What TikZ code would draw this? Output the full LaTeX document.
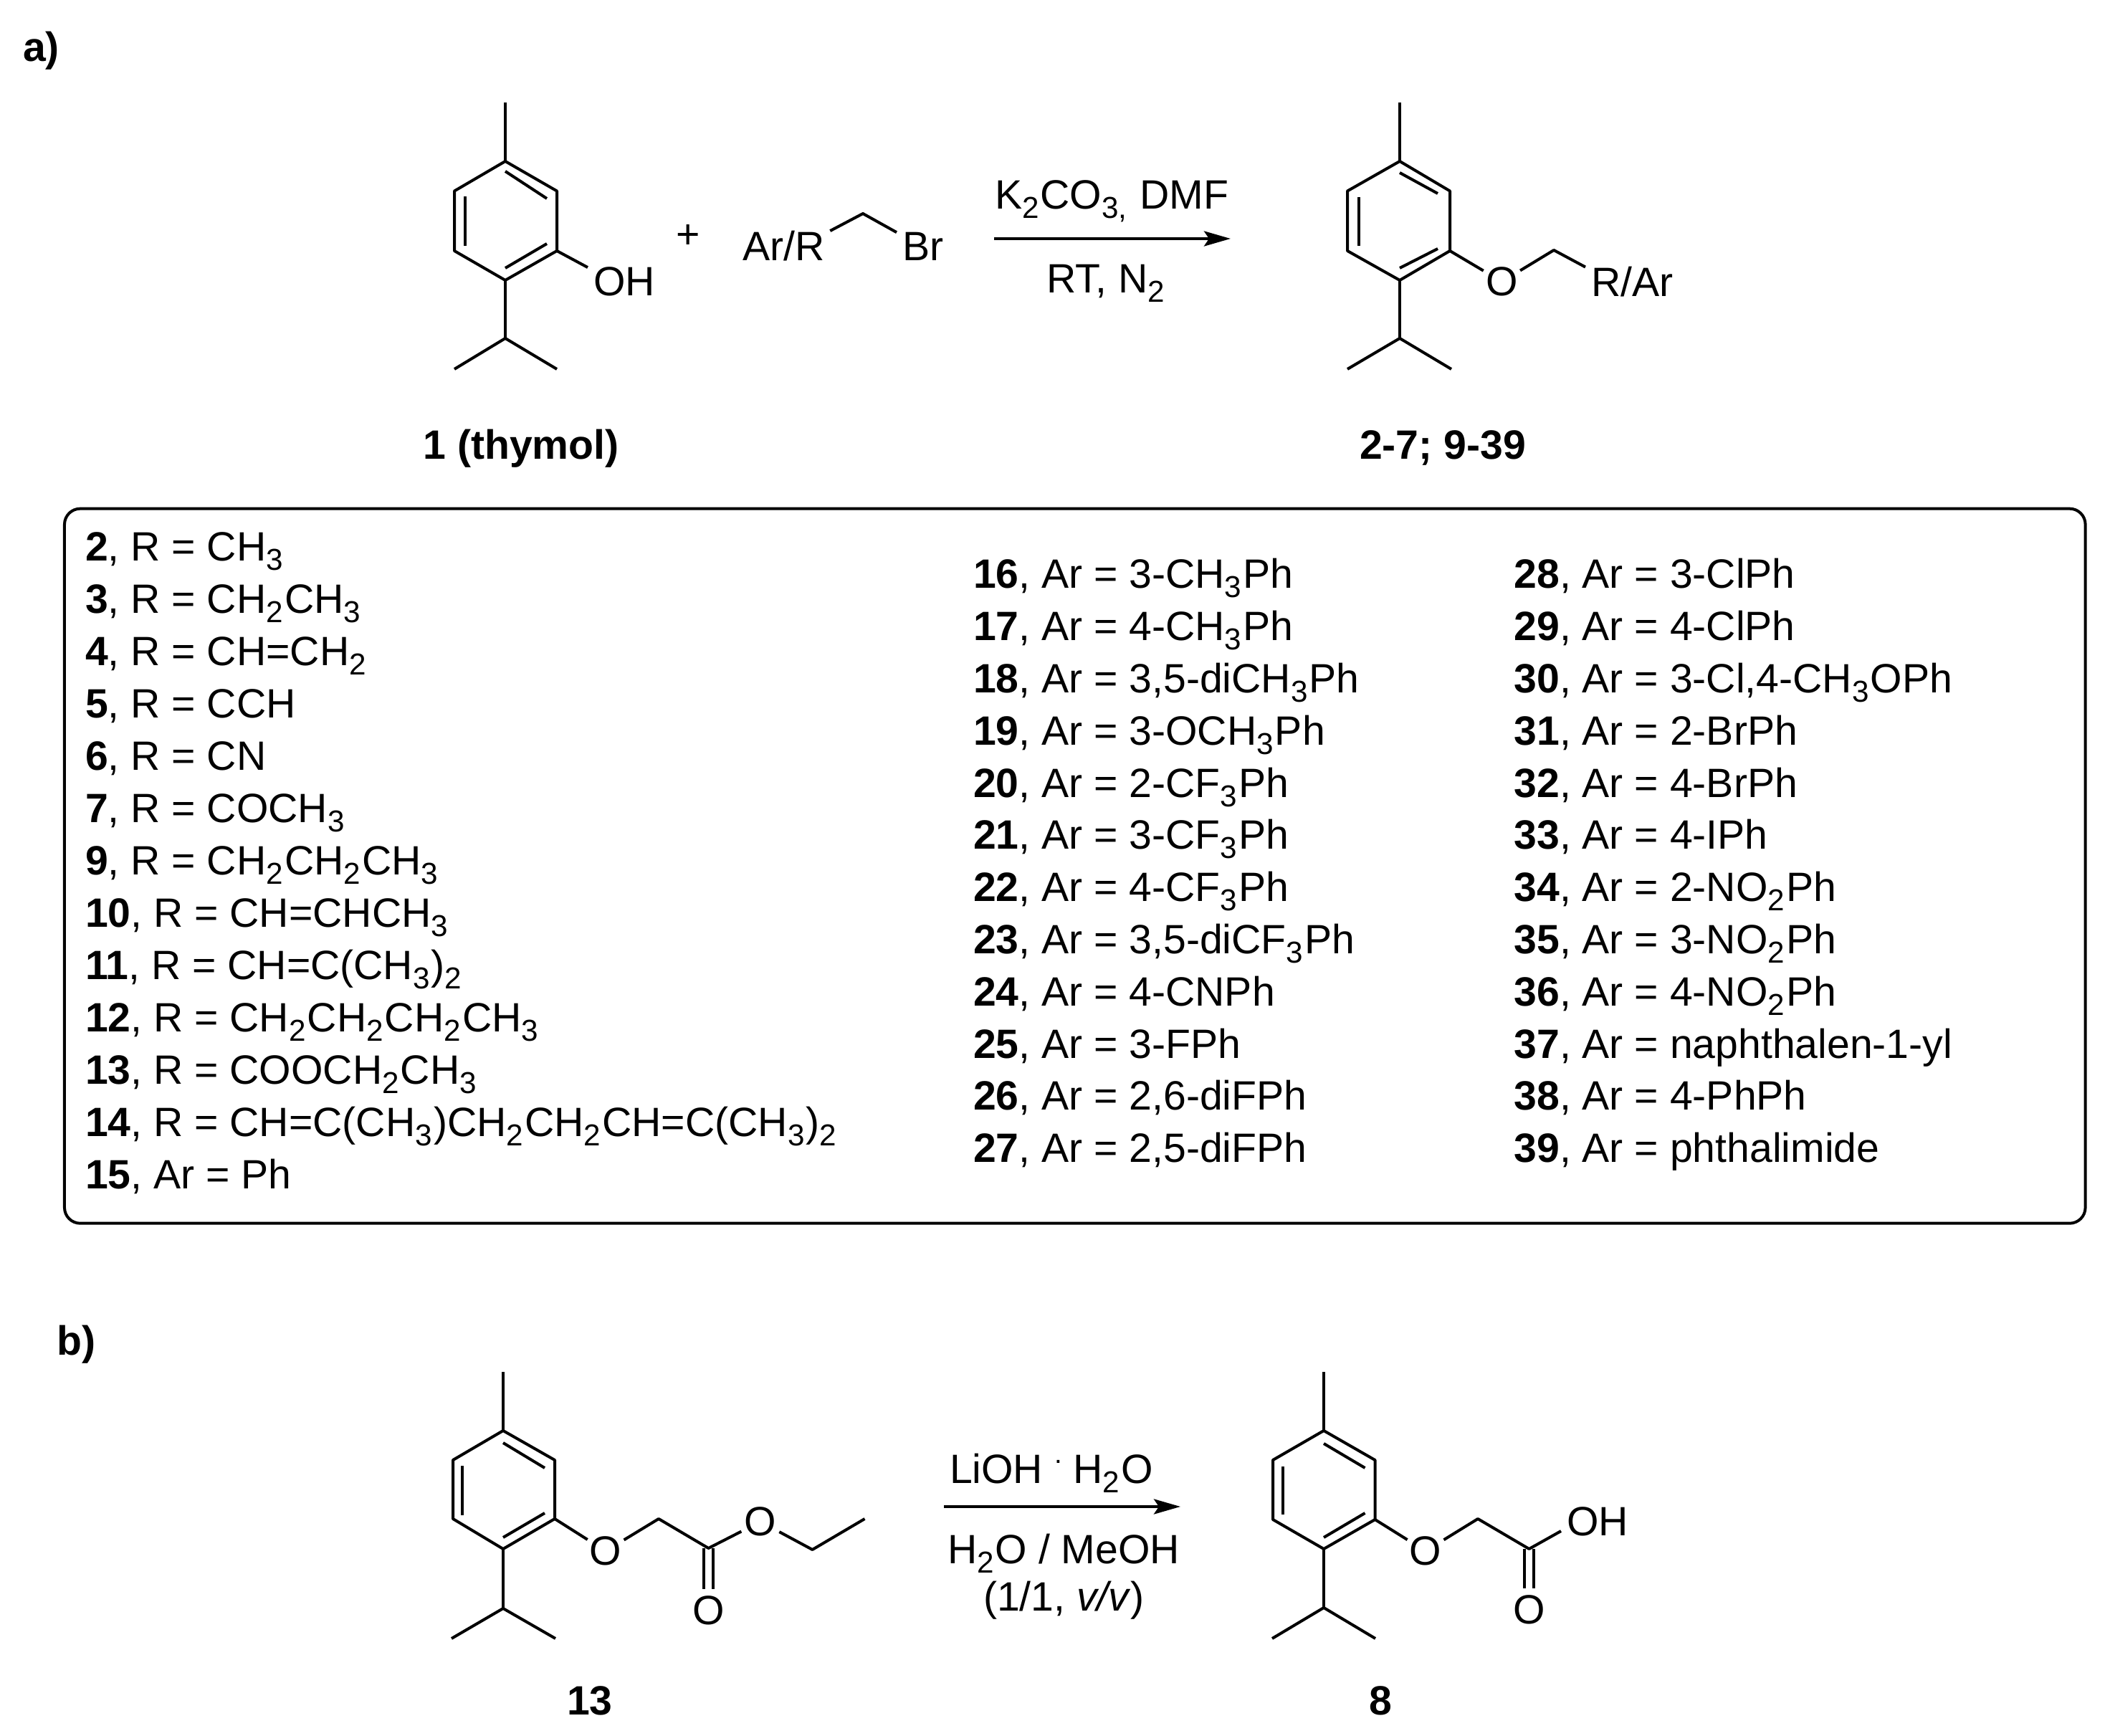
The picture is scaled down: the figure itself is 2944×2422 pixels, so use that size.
\documentclass[tikz,border=0pt]{standalone}
\usepackage{fontspec}
\setmainfont{Liberation Sans}
\usetikzlibrary{arrows.meta}
\newcommand{\sbs}[1]{\raisebox{-0.22em}{\fontsize{12}{13}\selectfont #1\kern.05em}}
\tikzset{
  txt/.style={inner sep=0pt, outer sep=0pt, anchor=base west},
  ctxt/.style={inner sep=0pt, outer sep=0pt, anchor=base},
  lab/.style={inner xsep=.08cm, inner ysep=0pt, outer sep=0pt, anchor=base west},
  atomO/.style={circle, inner sep=0pt, outer sep=0pt, minimum size=.59cm},
  bond/.style={line width=.04cm, line join=round},
  dbond/.style={line width=.04cm, double, double distance=.09cm},
  rxn/.style={line width=.042cm, -{Stealth[length=.37cm,width=.21cm,inset=.07cm]}},
  listbox/.style={draw, line width=.04cm, rounded corners=.22cm, minimum width=28.18cm, minimum height=9.965cm, inner sep=0pt}
}
\begin{document}
\begin{tikzpicture}[x=.01cm, y=-.01cm, every node/.style={font=\fontsize{16.25}{19}\selectfont}]
\useasboundingbox (0,0) rectangle (2944,2422);
\node[txt] (parta) at (32,86){\textbf{a)}};
\node[txt] (partb) at (80,1890){\textbf{b)}};
% thymol
\coordinate (a0) at (705,143);
\coordinate (a1) at (705,225);
\coordinate (a2) at (777,266.5);
\coordinate (a3) at (777,350);
\coordinate (a4) at (705,391);
\coordinate (a5) at (634,350);
\coordinate (a6) at (634,266.5);
\coordinate (a7) at (705,472);
\coordinate (a8) at (634,515);
\coordinate (a9) at (777,515);
\coordinate (ai1) at (705,239);
\coordinate (ai2) at (763,277);
\coordinate (ai3) at (763,340);
\coordinate (ai4) at (705,374);
\coordinate (ai5) at (648.6,343);
\coordinate (ai6) at (648.6,274.5);
\node[lab] (aoh) at (820,413){OH};
\draw[bond](a1) -- (a2) -- (a3) -- (a4) -- (a5) -- (a6) -- cycle;
\draw[bond](a0) -- (a1);
\draw[bond](a4) -- (a7);
\draw[bond](a8) -- (a7) -- (a9);
\draw[bond](ai1) -- (ai2);
\draw[bond](ai3) -- (ai4);
\draw[bond](ai5) -- (ai6);
\draw[bond](a3) -- (aoh.north west);
\node[ctxt] (thy) at (727,641){\textbf{1 (thymol)}};
\node[ctxt] (plus) at (960,347){+};
% benzyl bromide
\node[lab] (arr) at (1028,363.5){Ar/R};
\node[lab] (br) at (1251,363.5){Br};
\coordinate (b1) at (1204,298);
\draw[bond](arr.north east) -- (b1) -- (br.north west);
% first arrow
\coordinate (r1s) at (1387,333);
\coordinate (r1e) at (1717,333);
\draw[rxn](r1s) -- (r1e);
\node[txt] (r1a) at (1388,291.5){K\sbs{2}CO\sbs{3,} DMF};
\node[txt] (r1b) at (1460,408.5){RT, N\sbs{2}};
% product
\coordinate (c0) at (1953,143);
\coordinate (c1) at (1953,225);
\coordinate (c2) at (2023,266.5);
\coordinate (c3) at (2023,350);
\coordinate (c4) at (1953,391);
\coordinate (c5) at (1880,350);
\coordinate (c6) at (1880,266.5);
\coordinate (c7) at (1953,472);
\coordinate (c8) at (1880,515);
\coordinate (c9) at (2025,515);
\coordinate (ci1) at (1953,241);
\coordinate (ci2) at (2006,270);
\coordinate (ci3) at (2006,347);
\coordinate (ci4) at (1953,374);
\coordinate (ci5) at (1895.5,343);
\coordinate (ci6) at (1895.5,275);
\coordinate (c10) at (2168,349);
\node[atomO] (co) at (2095.5,393){O};
\node[lab] (crar) at (2212,414){R/Ar};
\draw[bond](c1) -- (c2) -- (c3) -- (c4) -- (c5) -- (c6) -- cycle;
\draw[bond](c0) -- (c1);
\draw[bond](c4) -- (c7);
\draw[bond](c8) -- (c7) -- (c9);
\draw[bond](ci1) -- (ci2);
\draw[bond](ci3) -- (ci4);
\draw[bond](ci5) -- (ci6);
\draw[bond](c3) -- (co);
\draw[bond](co) -- (c10) -- (crar.north west);
\node[ctxt] (prod) at (2013,641){\textbf{2-7; 9-39}};
% list box
\node[listbox] (box) at (1499.8,1208.2){};
\node[txt] (l2) at (119,783){\textbf{2}, R = CH\sbs{3}};
\node[txt] (l3) at (119,856){\textbf{3}, R = CH\sbs{2}CH\sbs{3}};
\node[txt] (l4) at (119,929){\textbf{4}, R = CH=CH\sbs{2}};
\node[txt] (l5) at (119,1002){\textbf{5}, R = CCH};
\node[txt] (l6) at (119,1075){\textbf{6}, R = CN};
\node[txt] (l7) at (119,1148){\textbf{7}, R = COCH\sbs{3}};
\node[txt] (l9) at (119,1220.5){\textbf{9}, R = CH\sbs{2}CH\sbs{2}CH\sbs{3}};
\node[txt] (l10) at (119,1293.5){\textbf{10}, R = CH=CHCH\sbs{3}};
\node[txt] (l11) at (119,1366.5){\textbf{11}, R = CH=C(CH\sbs{3})\sbs{2}};
\node[txt] (l12) at (119,1439.5){\textbf{12}, R = CH\sbs{2}CH\sbs{2}CH\sbs{2}CH\sbs{3}};
\node[txt] (l13) at (119,1512.5){\textbf{13}, R = COOCH\sbs{2}CH\sbs{3}};
\node[txt] (l14) at (119,1585.5){\textbf{14}, R = CH=C(CH\sbs{3})CH\sbs{2}CH\sbs{2}CH=C(CH\sbs{3})\sbs{2}};
\node[txt] (l15) at (119,1658.5){\textbf{15}, Ar = Ph};
\node[txt] (l16) at (1358,821){\textbf{16}, Ar = 3-CH\sbs{3}Ph};
\node[txt] (l17) at (1358,894){\textbf{17}, Ar = 4-CH\sbs{3}Ph};
\node[txt] (l18) at (1358,967){\textbf{18}, Ar = 3,5-diCH\sbs{3}Ph};
\node[txt] (l19) at (1358,1039.5){\textbf{19}, Ar = 3-OCH\sbs{3}Ph};
\node[txt] (l20) at (1358,1112.5){\textbf{20}, Ar = 2-CF\sbs{3}Ph};
\node[txt] (l21) at (1358,1185){\textbf{21}, Ar = 3-CF\sbs{3}Ph};
\node[txt] (l22) at (1358,1258){\textbf{22}, Ar = 4-CF\sbs{3}Ph};
\node[txt] (l23) at (1358,1331){\textbf{23}, Ar = 3,5-diCF\sbs{3}Ph};
\node[txt] (l24) at (1358,1403.5){\textbf{24}, Ar = 4-CNPh};
\node[txt] (l25) at (1358,1476.5){\textbf{25}, Ar = 3-FPh};
\node[txt] (l26) at (1358,1549){\textbf{26}, Ar = 2,6-diFPh};
\node[txt] (l27) at (1358,1622){\textbf{27}, Ar = 2,5-diFPh};
\node[txt] (l28) at (2112.5,821){\textbf{28}, Ar = 3-ClPh};
\node[txt] (l29) at (2112.5,894){\textbf{29}, Ar = 4-ClPh};
\node[txt] (l30) at (2112.5,967){\textbf{30}, Ar = 3-Cl,4-CH\sbs{3}OPh};
\node[txt] (l31) at (2112.5,1039.5){\textbf{31}, Ar = 2-BrPh};
\node[txt] (l32) at (2112.5,1112.5){\textbf{32}, Ar = 4-BrPh};
\node[txt] (l33) at (2112.5,1185){\textbf{33}, Ar = 4-IPh};
\node[txt] (l34) at (2112.5,1258){\textbf{34}, Ar = 2-NO\sbs{2}Ph};
\node[txt] (l35) at (2112.5,1331){\textbf{35}, Ar = 3-NO\sbs{2}Ph};
\node[txt] (l36) at (2112.5,1403.5){\textbf{36}, Ar = 4-NO\sbs{2}Ph};
\node[txt] (l37) at (2112.5,1476.5){\textbf{37}, Ar = naphthalen-1-yl};
\node[txt] (l38) at (2112.5,1549){\textbf{38}, Ar = 4-PhPh};
\node[txt] (l39) at (2112.5,1622){\textbf{39}, Ar = phthalimide};
% ester 13
\coordinate (d0) at (702,1914);
\coordinate (d1) at (702,1996);
\coordinate (d2) at (774,2037);
\coordinate (d3) at (774,2119);
\coordinate (d4) at (702,2161);
\coordinate (d5) at (632,2119);
\coordinate (d6) at (632,2037);
\coordinate (d7) at (702,2244);
\coordinate (d8) at (630,2286);
\coordinate (d9) at (775,2286);
\coordinate (di1) at (702,2013);
\coordinate (di2) at (760,2048);
\coordinate (di3) at (760,2111);
\coordinate (di4) at (702,2145);
\coordinate (di5) at (645,2113.5);
\coordinate (di6) at (645,2045);
\coordinate (d10) at (919,2119);
\coordinate (d11) at (988.5,2160);
\coordinate (d12) at (1133.5,2162);
\coordinate (d13) at (1206.5,2119);
\node[atomO] (do1) at (845,2164){O};
\node[atomO] (do2) at (1061,2123){O};
\node[atomO] (do3) at (988.5,2247){O};
\draw[dbond](d11) -- (do3);
\draw[bond](d1) -- (d2) -- (d3) -- (d4) -- (d5) -- (d6) -- cycle;
\draw[bond](d0) -- (d1);
\draw[bond](d4) -- (d7);
\draw[bond](d8) -- (d7) -- (d9);
\draw[bond](di1) -- (di2);
\draw[bond](di3) -- (di4);
\draw[bond](di5) -- (di6);
\draw[bond](d3) -- (do1);
\draw[bond](do1) -- (d10) -- (d11) -- (do2);
\draw[bond](do2) -- (d12) -- (d13);
\node[ctxt] (n13) at (823,2392){\textbf{13}};
% second arrow
\coordinate (r2s) at (1317,2102);
\coordinate (r2e) at (1647,2102);
\draw[rxn](r2s) -- (r2e);
\node[txt] (r2a) at (1325,2069.5){LiOH \raisebox{.49em}{\fontsize{11}{11}\selectfont .} H\sbs{2}O};
\node[txt] (r2b) at (1322,2181.5){H\sbs{2}O / MeOH};
\node[txt] (r2c) at (1372,2247.5){(1/1, \textit{v/v})};
% acid 8
\coordinate (e0) at (1847,1914);
\coordinate (e1) at (1847,1996);
\coordinate (e2) at (1918.5,2037);
\coordinate (e3) at (1918.5,2120);
\coordinate (e4) at (1847,2161);
\coordinate (e5) at (1776,2120);
\coordinate (e6) at (1776,2037);
\coordinate (e7) at (1847,2243);
\coordinate (e8) at (1775,2286);
\coordinate (e9) at (1919,2286);
\coordinate (ei1) at (1847,2014);
\coordinate (ei2) at (1904.5,2048);
\coordinate (ei3) at (1904.5,2111);
\coordinate (ei4) at (1847,2145);
\coordinate (ei5) at (1790,2113);
\coordinate (ei6) at (1790,2046);
\coordinate (e10) at (2062,2119);
\coordinate (e11) at (2133.5,2161);
\node[atomO] (eo1) at (1989,2164){O};
\node[atomO] (eo2) at (2133.5,2246){O};
\node[lab] (eoh) at (2178,2142.5){OH};
\draw[dbond](e11) -- (eo2);
\draw[bond](e1) -- (e2) -- (e3) -- (e4) -- (e5) -- (e6) -- cycle;
\draw[bond](e0) -- (e1);
\draw[bond](e4) -- (e7);
\draw[bond](e8) -- (e7) -- (e9);
\draw[bond](ei1) -- (ei2);
\draw[bond](ei3) -- (ei4);
\draw[bond](ei5) -- (ei6);
\draw[bond](e3) -- (eo1);
\draw[bond](eo1) -- (e10) -- (e11) -- ([yshift=.07cm]eoh.south west);
\node[ctxt] (n8) at (1926,2392){\textbf{8}};
\end{tikzpicture}
\end{document}
